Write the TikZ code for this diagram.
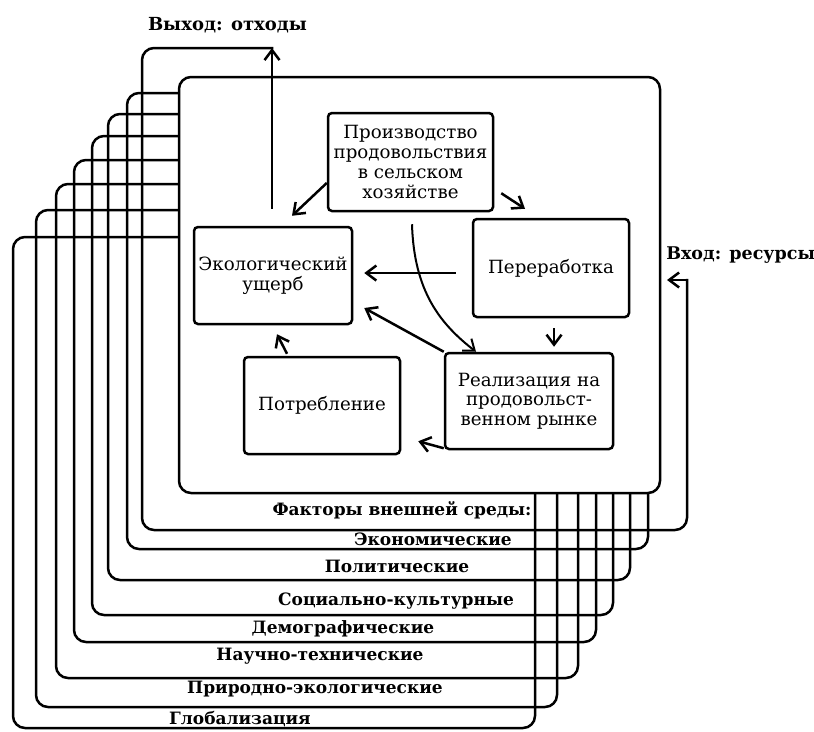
\documentclass[tikz,border=0pt]{standalone}
\usepackage{fontspec}
\setmainfont{DejaVu Serif}
\usetikzlibrary{arrows.meta}
\begin{document}
\begin{tikzpicture}[x=1pt,y=-1pt,line width=2.5pt,
  frame/.style={draw,rounded corners=12pt},
  box/.style={draw,rounded corners=4pt,align=center,inner sep=0pt,
    font=\fontsize{18.2}{19.7}\selectfont},
  arr/.style={-{Straight Barb[length=10pt,width=15pt]}},
  lab/.style={inner sep=0pt,font=\bfseries\fontsize{17}{19}\selectfont}]
\useasboundingbox (0,0) rectangle (814,731);
% nested frames of external factors
\draw[frame] (127,93) rectangle (648,549);
\draw[frame] (108,114) rectangle (630,580);
\draw[frame] (92,136) rectangle (613,615);
\draw[frame] (74,160) rectangle (596,642);
\draw[frame] (56,184) rectangle (578,678);
\draw[frame] (36,210) rectangle (557,707);
\draw[frame] (13,237) rectangle (535,728);
% input/output frame
\coordinate (outtop) at (272,48);
\coordinate (incorner) at (687,280);
\coordinate (intip) at (667,280);
\draw[frame,line cap=rect] (outtop) -- (142,48) -- (142,530) -- (687,530) -- (incorner);
\draw[arr] (incorner) -- (intip);
% main white box
\node[draw,fill=white,rounded corners=12pt,inner sep=0pt,
  minimum width=481pt,minimum height=416pt] (main) at (419.5,285) {};
% inner boxes
\node[box,minimum width=165pt,minimum height=98pt] (prod) at (410.5,162)
  {Производство\\продовольствия\\в сельском\\хозяйстве};
\node[box,minimum width=158pt,minimum height=97pt] (eco) at (273,275.5)
  {Экологический\\ущерб};
\node[box,minimum width=156pt,minimum height=98pt] (proc) at (551,268)
  {Переработка};
\node[box,minimum width=156pt,minimum height=97pt] (cons) at (322,405.5)
  {Потребление};
\node[box,minimum width=168pt,minimum height=96pt] (real) at (529,401)
  {Реализация на\\продовольст-\\венном рынке};
% connectors
\draw[arr] ([yshift=-21pt]prod.west) -- ([xshift=19pt,yshift=10pt]eco.north);
\draw[arr] ([xshift=7pt,yshift=19pt]prod.south east) -- ([xshift=-26pt,yshift=9pt]proc.north);
\draw[arr,line width=2pt] ([xshift=1.5pt,yshift=-12pt]prod.south)
  .. controls ([xshift=3.5pt,yshift=-79pt]prod.south) and ([xshift=-89pt,yshift=28pt]real.north)
  .. ([xshift=-53pt]real.north);
\draw[arr] ([xshift=-16pt,yshift=-5pt]proc.west) -- ([xshift=11pt,yshift=2.5pt]eco.east);
\draw[arr] (real.north west) -- ([xshift=11pt,yshift=-32.5pt]eco.east);
\draw[arr] ([xshift=3pt,yshift=-10pt]proc.south) -- ([xshift=25pt,yshift=5pt]real.north);
\draw[arr] ([xshift=-35pt,yshift=2pt]cons.north) -- ([xshift=4pt,yshift=-9pt]eco.south);
\draw[arr] ([yshift=2pt]real.south west) -- ([xshift=17pt,yshift=14pt]cons.south east);
\draw[arr] ([xshift=-1pt,yshift=17pt]eco.north) -- (outtop);
% labels
\node[lab,font=\bfseries\fontsize{18}{20}\selectfont] (tout) at (227.5,25) {Выход: отходы};
\node[lab,anchor=west,font=\bfseries\fontsize{17.5}{20}\selectfont] (tin) at (665,255) {Вход: ресурсы};
\node[lab] (f0) at (402,510) {Факторы внешней среды:};
\node[lab] (f1) at (433,539) {Экономические};
\node[lab] (f2) at (397,566) {Политические};
\node[lab] (f3) at (396,601) {Социально-культурные};
\node[lab] (f4) at (343,629) {Демографические};
\node[lab] (f5) at (320,656) {Научно-технические};
\node[lab] (f6) at (315,689) {Природно-экологические};
\node[lab] (f7) at (240,719) {Глобализация};
\end{tikzpicture}
\end{document}
